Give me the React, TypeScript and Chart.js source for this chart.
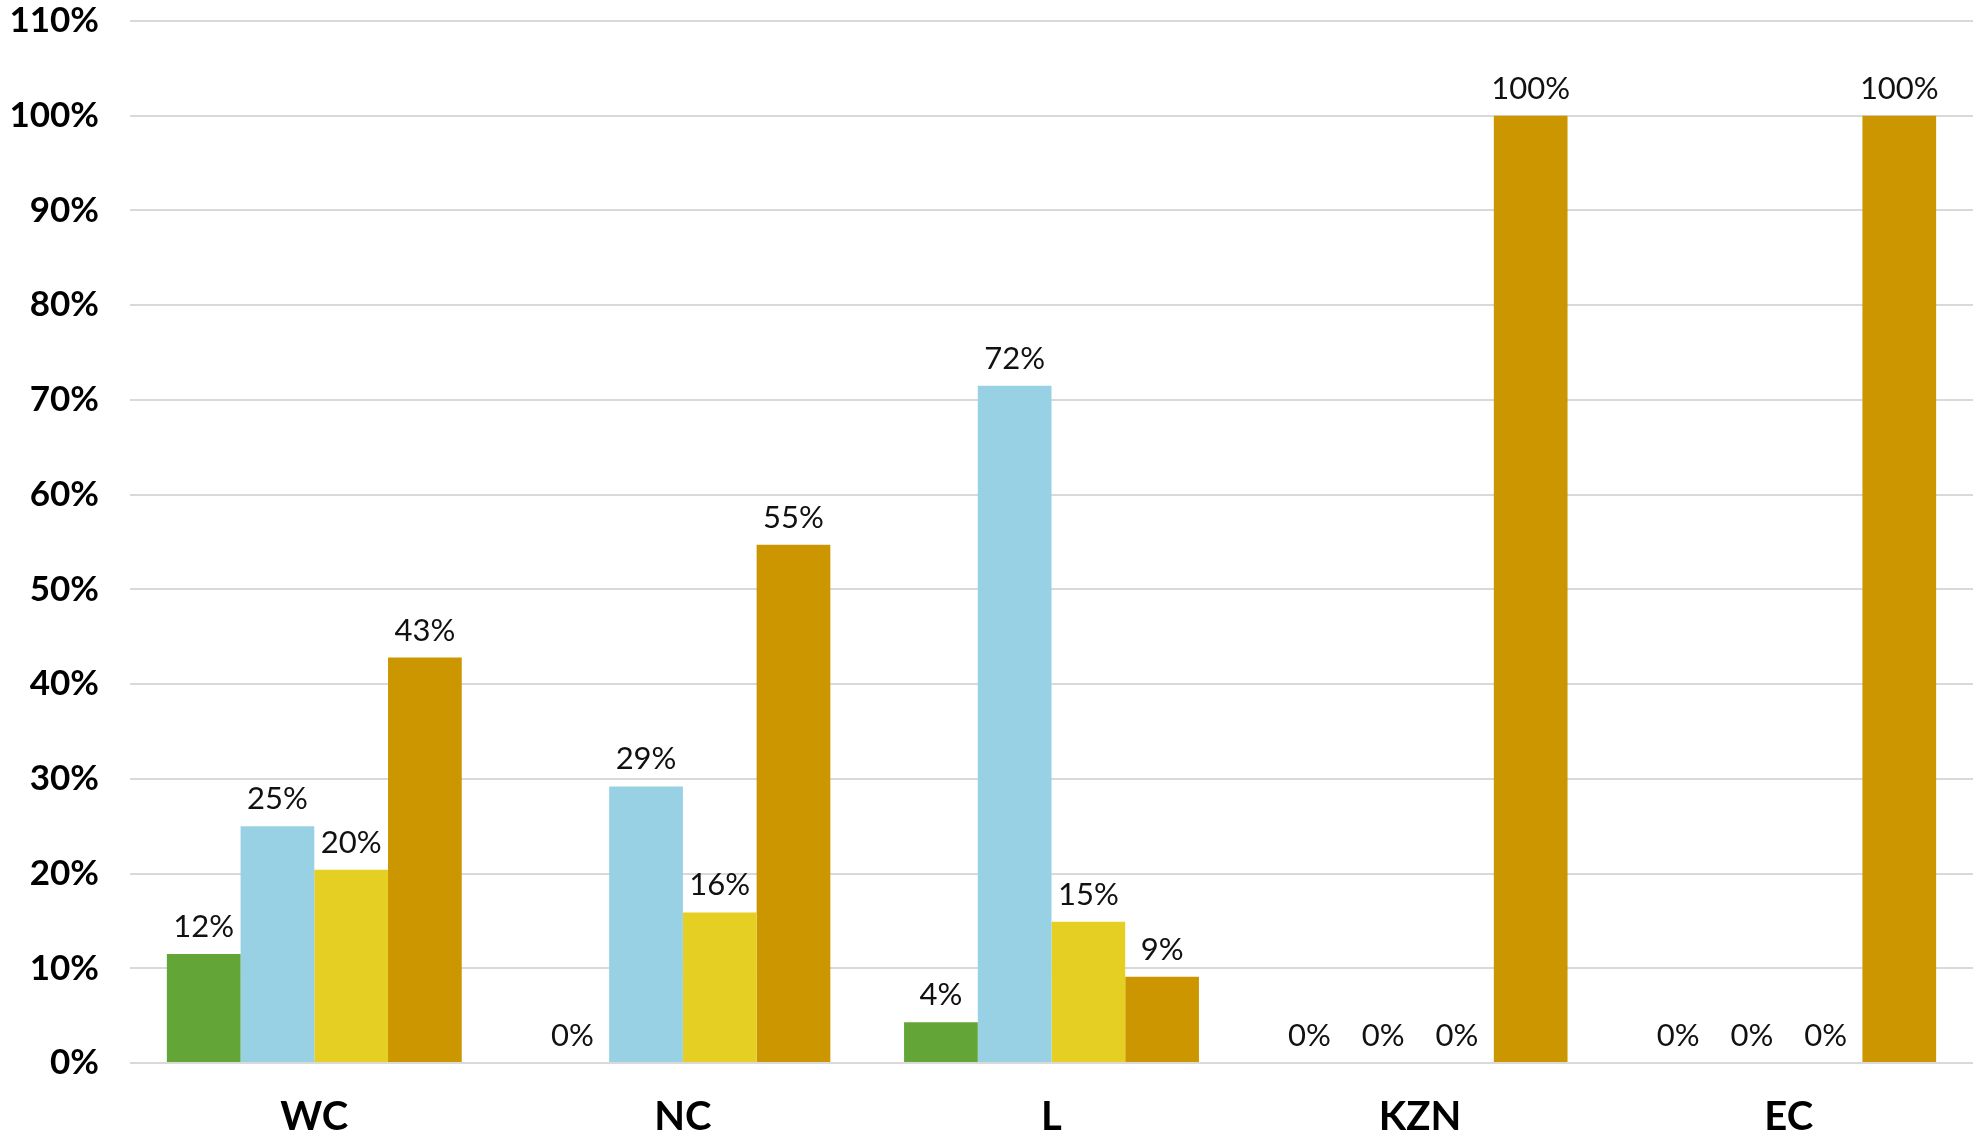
import React, { useEffect, useRef } from "react";
import { Chart, registerables } from "chart.js";

Chart.register(...registerables);

const categories = ["WC", "NC", "L", "KZN", "EC"];
const seriesA = [11.5, 0, 4.3, 0, 0];
const seriesB = [25.0, 29.2, 71.5, 0, 0];
const seriesC = [20.4, 15.9, 14.9, 0, 0];
const seriesD = [42.8, 54.7, 9.1, 100, 100];
const dataLabelsA = ["12%", "0%", "4%", "0%", "0%"];
const dataLabelsB = ["25%", "29%", "72%", "0%", "0%"];
const dataLabelsC = ["20%", "16%", "15%", "0%", "0%"];
const dataLabelsD = ["43%", "55%", "9%", "100%", "100%"];
const colors = ["#63A537", "#97D1E3", "#E5CF22", "#CC9600"];

const FONT = "Lato, 'Noto Sans', sans-serif";

const valueLabelPlugin = {
  id: "valueLabels",
  afterDatasetsDraw(chart: any) {
    const ctx = chart.ctx;
    const labelSets = [dataLabelsA, dataLabelsB, dataLabelsC, dataLabelsD];
    ctx.save();
    ctx.font = `normal 31px ${FONT}`;
    ctx.fillStyle = "#111111";
    ctx.textAlign = "center";
    ctx.textBaseline = "alphabetic";
    chart.data.datasets.forEach((ds: any, di: number) => {
      const meta = chart.getDatasetMeta(di);
      meta.data.forEach((el: any, i: number) => {
        const showZero =
          (di === 0 && i === 1) ||
          (di < 3 && (i === 3 || i === 4));
        if (ds.data[i] === 0 && !showZero) return;
        ctx.fillText(labelSets[di][i], el.x, el.y - 17);
      });
    });
    ctx.restore();
  },
};

export default function App() {
  const ref = useRef<HTMLCanvasElement | null>(null);
  useEffect(() => {
    if (!ref.current) return;
    const chart = new Chart(ref.current, {
      type: "bar",
      data: {
        labels: categories,
        datasets: [seriesA, seriesB, seriesC, seriesD].map((d, i) => ({
          label: `S${i + 1}`,
          data: d,
          backgroundColor: colors[i],
          borderWidth: 0,
          barPercentage: 1.0,
          categoryPercentage: 0.8,
        })),
      },
      options: {
        animation: false,
        responsive: true,
        maintainAspectRatio: false,
        layout: { padding: { top: 0, right: 4, left: 0, bottom: 0 } },
        plugins: {
          legend: { display: false },
          tooltip: { enabled: false },
        },
        scales: {
          x: {
            grid: { display: false, drawTicks: false },
            border: { display: false },
            ticks: {
              color: "#000000",
              font: { family: FONT, size: 40, weight: "bold" },
              padding: 30,
            },
            afterFit: (scale: any) => {
              scale.height = 76;
            },
          },
          y: {
            min: 0,
            max: 110,
            grid: { color: "#D9D9D9", lineWidth: 2, drawTicks: false },
            border: { display: false },
            ticks: {
              stepSize: 10,
              color: "#000000",
              font: { family: FONT, size: 35, weight: "bold" },
              padding: 31,
              callback: (v: any) => `${v}%`,
            },
            afterFit: (scale: any) => {
              scale.width = 130;
              scale.paddingTop = 21;
              scale.paddingBottom = 0;
            },
          },
        },
      },
      plugins: [valueLabelPlugin],
    });
    return () => chart.destroy();
  }, []);
  return (
    <div
      style={{
        position: "absolute",
        left: 0,
        top: 0,
        width: "1977px",
        height: "1139px",
        background: "#ffffff",
      }}
    >
      <canvas ref={ref} />
    </div>
  );
}
